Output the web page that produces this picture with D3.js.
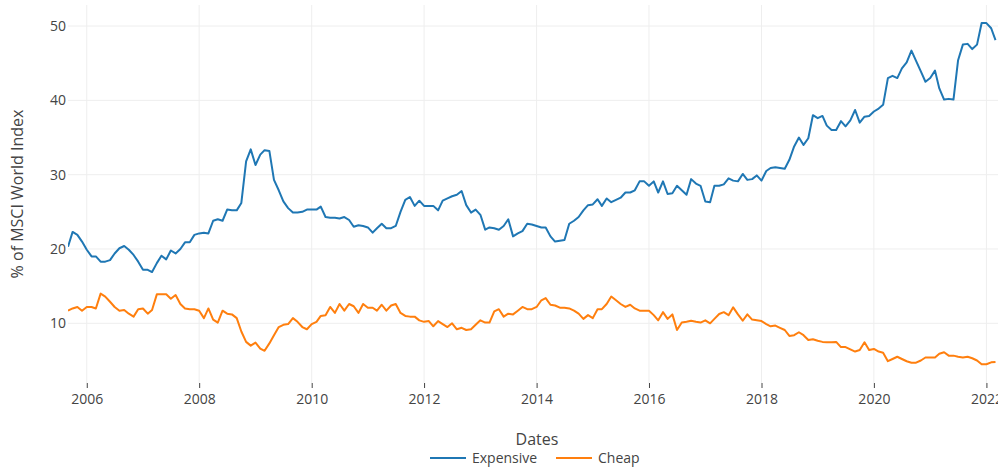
<!DOCTYPE html>
<html>
<head>
<meta charset="utf-8">
<script src="https://cdn.jsdelivr.net/npm/d3@7"></script>
<style>
	body { margin: 0; background: #fff; }
	text { font-family: 'Open Sans', verdana, arial, sans-serif; }
</style>
</head>
<body>
<script>
// monthly series, first month Sept 2005
var firstMonth = new Date(2005, 8, 1);

var expensive = [
	20.3,22.3,21.9,21.0,19.9,19.0,19.0,18.3,18.3,18.5,
	19.4,20.1,20.4,19.9,19.2,18.3,17.2,17.2,16.9,18.1,
	19.1,18.6,19.8,19.4,20.0,20.9,20.9,21.9,22.1,22.2,
	22.1,23.8,24.0,23.8,25.3,25.2,25.2,26.2,31.8,33.4,
	31.3,32.7,33.3,33.2,29.3,27.9,26.4,25.5,24.9,24.9,
	25.0,25.3,25.3,25.3,25.7,24.3,24.2,24.2,24.1,24.3,
	23.9,23.0,23.2,23.1,22.9,22.2,22.8,23.4,22.8,22.8,
	23.1,25.0,26.6,27.0,25.8,26.5,25.8,25.8,25.8,25.2,
	26.5,26.8,27.1,27.3,27.8,25.9,24.9,25.3,24.6,22.6,
	22.9,22.8,22.6,23.1,24.0,21.7,22.1,22.4,23.4,23.3,
	23.1,22.9,22.9,21.7,21.0,21.1,21.2,23.4,23.8,24.3,
	25.2,25.9,26.0,26.7,25.8,26.8,26.3,26.6,26.9,27.6,
	27.6,27.9,29.1,29.1,28.5,29.1,27.6,29.1,27.4,27.5,
	28.5,27.9,27.3,29.4,28.8,28.5,26.4,26.3,28.5,28.5,
	28.7,29.5,29.2,29.1,30.1,29.3,29.4,29.9,29.2,30.5,
	30.9,31.0,30.9,30.8,32.0,33.8,35.0,34.0,34.9,38.0,
	37.6,37.9,36.6,36.0,36.0,37.2,36.5,37.3,38.7,37.0,
	37.8,37.9,38.5,38.9,39.4,43.0,43.3,43.0,44.3,45.1,
	46.7,45.3,43.9,42.5,43.0,44.0,41.6,40.1,40.2,40.1,
	45.4,47.5,47.6,46.9,47.5,50.4,50.4,49.7,48.1
];

var cheap = [
	11.7,12.0,12.2,11.7,12.2,12.2,12.0,14.0,13.6,12.9,
	12.2,11.7,11.8,11.3,10.9,11.9,12.0,11.3,11.8,13.9,
	13.9,13.9,13.3,13.8,12.6,12.0,11.9,11.9,11.7,10.7,
	12.0,10.5,10.1,11.7,11.3,11.2,10.7,8.9,7.5,7.0,
	7.4,6.6,6.3,7.3,8.4,9.5,9.8,9.9,10.7,10.2,
	9.5,9.2,9.9,10.2,11.0,11.1,12.2,11.4,12.6,11.7,
	12.6,12.3,11.4,12.6,12.1,12.1,11.7,12.5,11.7,12.4,
	12.6,11.4,11.0,10.9,10.9,10.4,10.2,10.3,9.6,10.3,
	9.9,9.5,10.0,9.2,9.4,9.1,9.2,9.8,10.4,10.1,
	10.1,11.6,11.9,10.9,11.3,11.2,11.7,12.2,11.9,11.9,
	12.2,13.1,13.4,12.5,12.4,12.1,12.1,12.0,11.7,11.3,
	10.6,11.1,10.7,11.9,11.9,12.6,13.6,13.1,12.6,12.2,
	12.5,12.0,11.7,11.7,11.7,11.1,10.4,11.5,10.6,11.2,
	9.1,10.1,10.2,10.35,10.2,10.1,10.4,10.0,10.6,11.25,
	11.5,11.1,12.15,11.2,10.35,11.2,10.5,10.4,10.3,9.9,
	9.6,9.7,9.4,9.1,8.3,8.4,8.8,8.4,7.75,7.85,
	7.65,7.5,7.45,7.45,7.5,6.8,6.8,6.5,6.2,6.4,
	7.45,6.4,6.55,6.2,6.05,4.9,5.2,5.5,5.2,4.9,
	4.7,4.7,5.0,5.4,5.4,5.4,5.9,6.1,5.65,5.65,
	5.5,5.4,5.5,5.3,5.0,4.5,4.5,4.75,4.8
];

var seriesNames = ['Expensive', 'Cheap'];
var seriesColors = ['#1f77b4', '#ff7f0e'];
var yTicks = [10, 20, 30, 40, 50];

var dates = expensive.map(function(d, i) {
	return d3.timeMonth.offset(firstMonth, i);
});

var width = 998, height = 469;
var plot = { left: 68, right: 998, top: 5, bottom: 383 };

var svg = d3.select('body')
	.append('svg')
	.attr('width', width)
	.attr('height', height);

var x = d3.scaleTime()
	.domain([dates[0], dates[dates.length - 1]])
	.range([plot.left, 995.5]);

var y = d3.scaleLinear()
	.domain([1.97, 52.83])
	.range([plot.bottom, plot.top]);

// grid
svg.append('g')
	.selectAll('line')
	.data(x.ticks(d3.timeYear.every(2)))
	.enter()
	.append('line')
	.attr('x1', function(d) { return x(d); })
	.attr('x2', function(d) { return x(d); })
	.attr('y1', plot.top)
	.attr('y2', plot.bottom)
	.style('stroke', '#eee')
	.style('stroke-width', 1);

svg.append('g')
	.selectAll('line')
	.data(yTicks)
	.enter()
	.append('line')
	.attr('x1', plot.left)
	.attr('x2', plot.right)
	.attr('y1', function(d) { return y(d); })
	.attr('y2', function(d) { return y(d); })
	.style('stroke', '#eee')
	.style('stroke-width', 1);

// axes
var xAxis = svg.append('g')
	.attr('transform', 'translate(0,' + plot.bottom + ')')
	.call(d3.axisBottom(x)
		.ticks(d3.timeYear.every(2))
		.tickFormat(d3.timeFormat('%Y'))
		.tickSize(5)
		.tickPadding(6));
xAxis.select('.domain').remove();
xAxis.selectAll('line').style('stroke', '#444');
xAxis.selectAll('text')
	.style('font-size', '14px')
	.style('fill', '#444');

var yAxis = svg.append('g')
	.attr('transform', 'translate(' + plot.left + ',0)')
	.call(d3.axisLeft(y)
		.tickValues(yTicks)
		.tickSize(0)
		.tickPadding(2));
yAxis.select('.domain').remove();
yAxis.selectAll('text')
	.style('font-size', '14px')
	.style('fill', '#444');

// lines
svg.append('clipPath')
	.attr('id', 'clip')
	.append('rect')
	.attr('x', plot.left)
	.attr('y', plot.top)
	.attr('width', plot.right - plot.left)
	.attr('height', plot.bottom - plot.top);

var line = d3.line()
	.x(function(d, i) { return x(dates[i]); })
	.y(function(d) { return y(d); });

svg.append('g')
	.attr('clip-path', 'url(#clip)')
	.selectAll('path')
	.data([expensive, cheap])
	.enter()
	.append('path')
	.attr('d', line)
	.style('fill', 'none')
	.style('stroke', function(d, i) { return seriesColors[i]; })
	.style('stroke-width', 2)
	.style('stroke-linejoin', 'round');

// titles
svg.append('text')
	.attr('transform', 'translate(17,' + ((plot.top + plot.bottom) / 2) + ') rotate(-90)')
	.attr('dy', '0.35em')
	.style('text-anchor', 'middle')
	.style('font-size', '16px')
	.style('fill', '#444')
	.text('% of MSCI World Index');

svg.append('text')
	.attr('x', 537)
	.attr('y', 439)
	.attr('dy', '0.35em')
	.style('text-anchor', 'middle')
	.style('font-size', '16px')
	.style('fill', '#444')
	.text('Dates');

// legend
var legendX = [430, 556];
var legend = svg.selectAll('.legend')
	.data(seriesNames)
	.enter()
	.append('g')
	.classed('legend', true)
	.attr('transform', function(d, i) { return 'translate(' + legendX[i] + ',458)'; });
legend.append('line')
	.attr('x1', 0)
	.attr('x2', 36)
	.style('stroke', function(d, i) { return seriesColors[i]; })
	.style('stroke-width', 2);
legend.append('text')
	.attr('x', 42)
	.attr('dy', '0.35em')
	.style('font-size', '14px')
	.style('fill', '#444')
	.text(function(d) { return d; });
</script>
</body>
</html>
